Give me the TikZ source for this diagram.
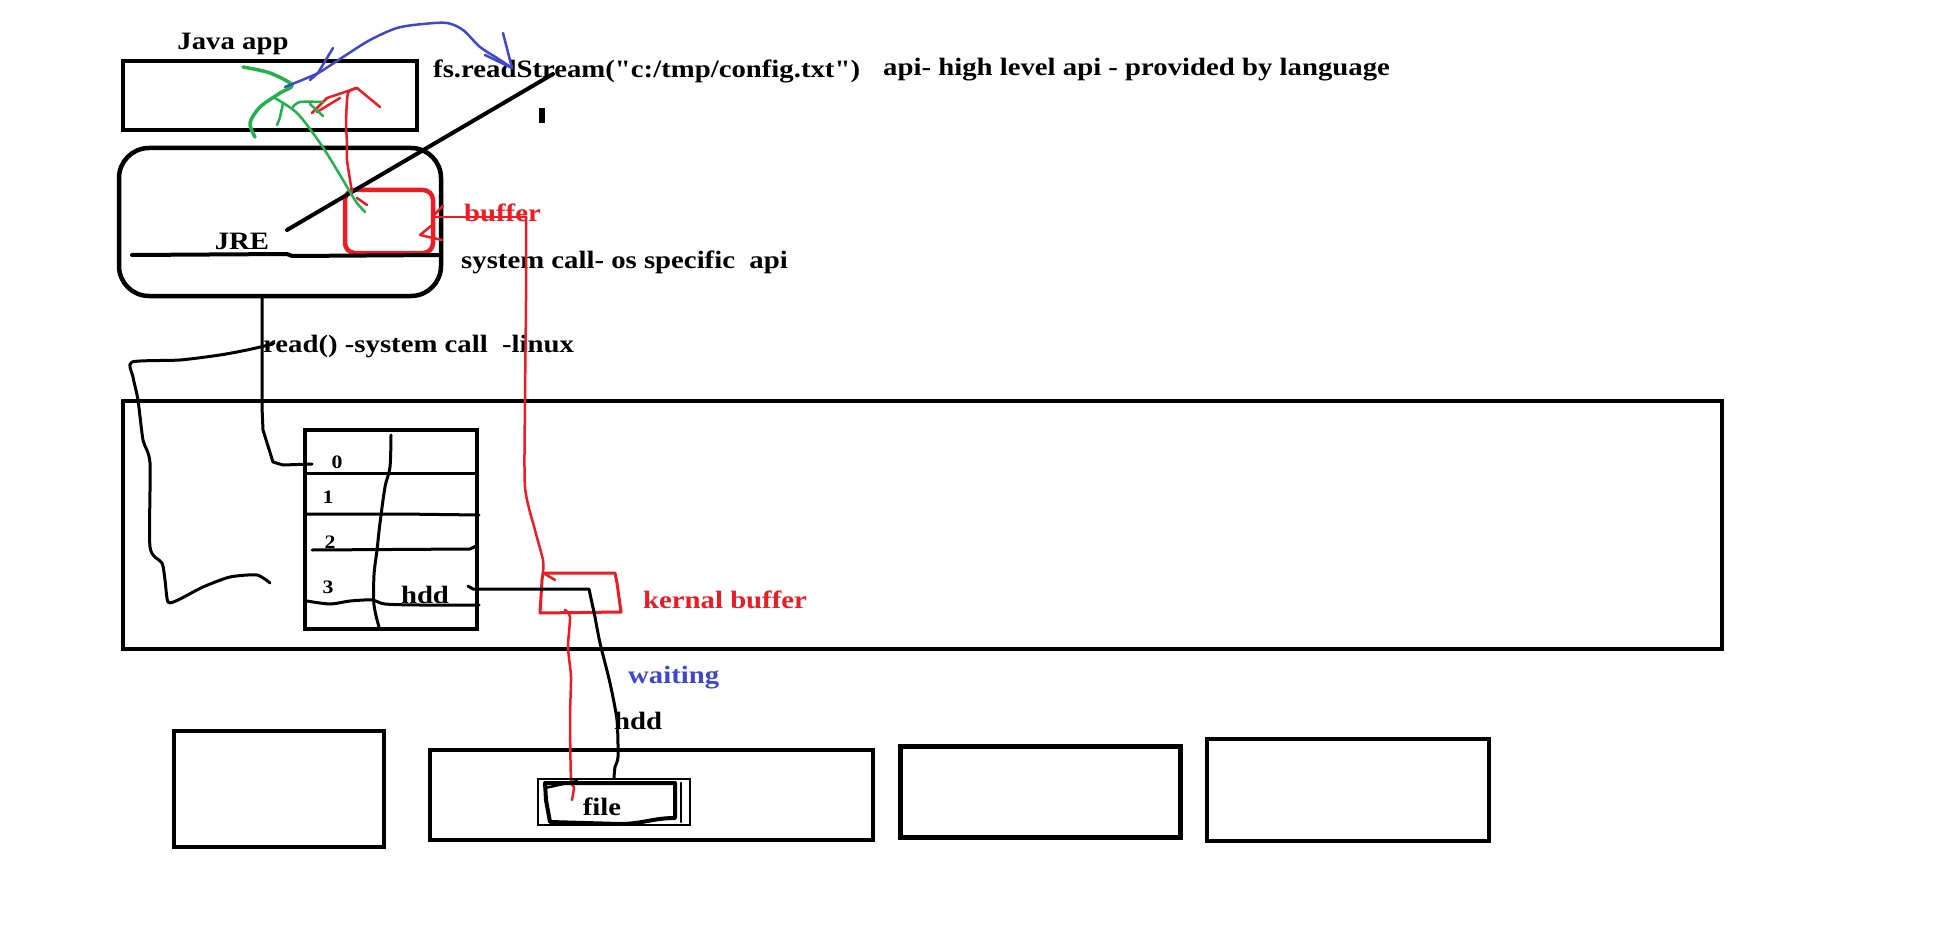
\documentclass[tikz,border=0pt]{standalone}
\usepackage{fontspec}
\setmainfont{Liberation Serif}[FakeStretch=1.15]
\newfontfamily\plainfont{Liberation Serif}[FakeStretch=1.15]
\definecolor{myred}{HTML}{ED1C24}
\definecolor{mygreen}{HTML}{22B14C}
\definecolor{myblue}{HTML}{3F48CC}
\begin{document}
\begin{tikzpicture}[x=1pt,y=-1pt,
  box/.style={draw,line width=4.5pt,inner sep=0,outer sep=0},
  pen/.style={line width=3pt,line cap=round,line join=round},
  redpen/.style={pen,draw=myred,line width=2.5pt},
  greenpen/.style={pen,draw=mygreen,line width=3.5pt},
  bluepen/.style={pen,draw=myblue,line width=2.5pt},
  lbl/.style={font=\fontsize{25}{29}\selectfont\bfseries,inner sep=0},
  small/.style={font=\fontsize{19}{22}\selectfont\bfseries,inner sep=0}]
\fill[white] (0,0) rectangle (1949,952);
\useasboundingbox (0,0) rectangle (1949,952);

% boxes
\node[box,minimum width=294pt,minimum height=69pt] (java) at (270,95.5) {};
\node[box,rounded corners=30pt,minimum width=322pt,minimum height=148pt] (jre) at (280,222) {};
\node[box,minimum width=1599pt,minimum height=248pt] (kernel) at (922.5,525) {};
\node[box,minimum width=172pt,minimum height=199pt] (fdt) at (391,529.5) {};
\node[box,draw=myred,rounded corners=10pt,minimum width=88pt,minimum height=63pt] (buf) at (389,221.5) {};
\node[box,minimum width=210pt,minimum height=116pt] (d1) at (279,789) {};
\node[box,minimum width=443pt,minimum height=90pt] (d2) at (651.5,795) {};
\node[box,minimum width=280pt,minimum height=91pt] (d3) at (1040.5,792) {};
\node[box,minimum width=282pt,minimum height=102pt] (d4) at (1348,790) {};

% JRE inner line, diagonal and tick
\coordinate (jl) at (132,255);
\coordinate (jr) at (441,255);
\draw[pen,line width=4pt] (jl) -- (287,254) -- (292,256) -- (jr);
\coordinate (dg1) at (287,230);
\coordinate (dg2) at (553,74);
\draw[pen,line width=4pt] (dg1) -- (dg2);
\coordinate (tk1) at (541.5,108);
\coordinate (tk2) at (541.5,123);
\draw[line width=6pt] (tk1) -- (tk2);

% texts
\node[lbl] (tjava) at (233,44) {Java app};
\node[lbl,anchor=west] (tfs) at (433,71) {\plainfont\bfseries fs.readStream("c:/tmp/config.txt")};
\node[lbl,anchor=west] (tapi) at (883,70) {api- high level api - provided by language};
\node[lbl,anchor=west,text=myred] (tbuf) at (464,213) {buffer};
\node[lbl,anchor=west] (tsys) at (461,262) {system call- os specific\ \ api};
\node[lbl] (tjre) at (242,241) {JRE};
\node[lbl,anchor=west] (tread) at (263,347) {read() -system call\ \ -linux};
\node[small] (t0) at (337,462) {0};
\node[small] (t1) at (328,497) {1};
\node[small] (t2) at (330,542) {2};
\node[small] (t3) at (328,587) {3};
\node[lbl] (thdd) at (425,595) {hdd};
\node[lbl,anchor=west,text=myred] (tkb) at (643,600) {kernal buffer};
\node[lbl,anchor=west,text=myblue] (twait) at (628,678) {waiting};
\node[lbl,anchor=west] (thdd2) at (614,721) {hdd};

% fd table rows and divider
\draw[pen] (307,473) -- (475,473);
\draw[pen] (307,514) -- (400,514) -- (479,515);
\draw[pen] (312,550) -- (470,549) -- (476,546);
\draw[pen] plot[smooth,tension=.5] coordinates {(307,601) (330,604) (350,601) (372,600) (385,604) (420,605) (479,605)};
\draw[pen] plot[smooth,tension=.5] coordinates {(391,435) (390,467) (385,487) (380,523) (377,550) (374,575) (374,605) (379,627)};

% JRE to fd 0
\coordinate (jb) at (262,297);
\coordinate (f0) at (312,464);
\draw[pen] (jb) -- (262,407) -- (263,430) -- (273,462) -- (283,465) -- (f0);

% irregular loop line
\draw[pen] plot[smooth,tension=.4] coordinates {(273,344) (247,350) (220,355) (180,360) (132,362) (133,377) (138,400) (143,440) (150,463) (150,547) (162,563) (165,580) (168,602) (178,600) (203,587) (230,577) (257,575) (270,583)};

% red arrow up from buffer
\draw[redpen] plot[smooth,tension=.4] coordinates {(352,192) (347,160) (347,143) (346,123) (348,93) (357,88)};
\draw[redpen] (357,88) -- (380,107);
\draw[redpen] (357,88) -- (327,98) -- (312,113);
\draw[redpen] (317,112) -- (340,98);
\draw[redpen] (357,198) -- (367,205);

% green strokes
\draw[greenpen] plot[smooth,tension=.5] coordinates {(243,67) (270,73) (292,85) (280,93) (260,107) (250,123) (255,137)};
\draw[greenpen,line width=2.5pt] plot[smooth,tension=.5] coordinates {(273,97) (297,113) (320,143) (337,170) (350,192) (357,203) (365,212)};
\draw[greenpen,line width=2.5pt] plot[smooth,tension=.5] coordinates {(283,103) (280,117) (277,125)};
\draw[greenpen,line width=2.5pt] plot[smooth,tension=.5] coordinates {(293,107) (300,102) (323,102)};
\draw[greenpen,line width=2.5pt] (310,104) -- (323,116);

% blue arrow
\coordinate (bl1) at (285,87);
\coordinate (bl2) at (512,68);
\draw[bluepen] plot[smooth,tension=.5] coordinates {(285,87) (307,78) (320,72) (343,57) (370,40) (397,28) (423,24) (447,23) (463,30) (480,47) (497,58) (512,68)};
\draw[bluepen] (bl2) -- (503,33);
\draw[bluepen] (bl2) -- (485,55);
\draw[bluepen] (333,48) -- (318,73) -- (310,80);

% red buffer arrow and long red line
\coordinate (rb) at (526,217);
\coordinate (ra) at (432,217);
\draw[redpen] (rb) -- (ra);
\draw[redpen] (443,206) -- (ra);
\draw[redpen] (431,226) -- (420,235) -- (442,240);
\draw[redpen] plot[smooth,tension=.4] coordinates {(526,217) (526,300) (525,400) (525,487) (535,530) (543,560) (543,573)};

% kernel buffer (red)
\coordinate (kb) at (543,573);
\draw[redpen,line width=3pt] (kb) -- (615,573) -- (617,583) -- (621,612) -- (540,613) -- (542,580) -- cycle;
\draw[redpen] (545,574) -- (555,580);

% red down to file
\draw[redpen] plot[smooth,tension=.4] coordinates {(565,610) (570,617) (568,647) (571,677) (570,717) (571,780) (574,787) (572,800)};

% black hdd line from fd table to file
\coordinate (h1) at (468,586);
\coordinate (h2) at (614,778);
\draw[pen] (h1) -- (473,589) -- (589,589) -- (595,617);
\draw[pen] plot[smooth,tension=.4] coordinates {(595,617) (600,643) (610,683) (617,720) (618,757) (615,767) (614,778)};

% file
\node[draw,line width=2.5pt,minimum width=152pt,minimum height=46pt,inner sep=0] (filebox) at (614,802) {};
\draw[pen,line width=4pt] (545,783) -- (675,783) -- (675,818) to[out=180,in=0] (620,824) -- (550,822) -- (546,800) -- cycle;
\draw[pen,line width=2.5pt] (681,783) -- (681,822);
\draw[pen,line width=2.5pt] (545,788) -- (577,781);
\node[lbl] (tfile) at (602,807) {file};
\end{tikzpicture}
\end{document}
